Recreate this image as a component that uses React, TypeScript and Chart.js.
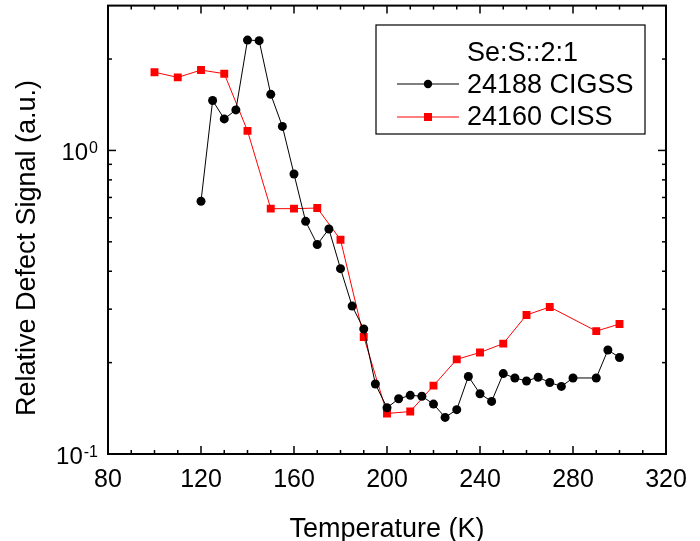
import React, { useEffect, useRef } from "react";
import { Chart, registerables } from "chart.js";

Chart.register(...registerables);

// ---- data ----
const tempCIGSS = [120, 125, 130, 135, 140, 145, 150, 155, 160, 165, 170, 175, 180, 185, 190, 195, 200, 205, 210, 215, 220, 225, 230, 235, 240, 245, 250, 255, 260, 265, 270, 275, 280, 290, 295, 300];
const sigCIGSS = [0.68, 1.46, 1.27, 1.36, 2.31, 2.30, 1.53, 1.20, 0.836, 0.584, 0.49, 0.551, 0.408, 0.307, 0.258, 0.170, 0.142, 0.152, 0.156, 0.155, 0.146, 0.132, 0.140, 0.180, 0.158, 0.149, 0.184, 0.178, 0.174, 0.179, 0.172, 0.167, 0.178, 0.178, 0.220, 0.208];

const tempCISS = [100, 110, 120, 130, 140, 150, 160, 170, 180, 190, 200, 210, 220, 230, 240, 250, 260, 270, 290, 300];
const sigCISS = [1.81, 1.74, 1.84, 1.79, 1.16, 0.643, 0.643, 0.646, 0.508, 0.243, 0.136, 0.138, 0.168, 0.205, 0.216, 0.231, 0.287, 0.305, 0.254, 0.268];

const seriesNames = ["24188 CIGSS", "24160 CISS"];
const legendTitle = "Se:S::2:1";
const xTickLabels = [80, 120, 160, 200, 240, 280, 320];
const yTickValues = [0.1, 1];
const yTickBase = ["10", "10"];
const yTickExp = ["-1", "0"];
const yMinorValues = [0.2, 0.3, 0.4, 0.5, 0.6, 0.7, 0.8, 0.9, 2];
const xTitle = "Temperature (K)";
const yTitle = "Relative Defect Signal (a.u.)";

const FONT = "'Liberation Sans', Arial, sans-serif";

const axesPlugin = {
  id: "customAxes",
  afterDatasetsDraw(chart: any) {
    const { ctx, chartArea: a, scales } = chart;
    const x = scales.x;
    const y = scales.y;
    ctx.save();
    ctx.strokeStyle = "#000";
    ctx.fillStyle = "#000";
    const line = (x1: number, y1: number, x2: number, y2: number) => {
      ctx.beginPath();
      ctx.moveTo(x1, y1);
      ctx.lineTo(x2, y2);
      ctx.stroke();
    };
    ctx.lineWidth = 1.5;
    // x ticks (major every 40, minor every 10)
    for (let v = x.min; v <= x.max; v += 10) {
      const px = x.getPixelForValue(v);
      const len = xTickLabels.includes(v) ? 8 : 4;
      line(px, a.bottom, px, a.bottom - len);
      line(px, a.top, px, a.top + len);
    }
    // y ticks
    yTickValues.forEach((v) => {
      const py = y.getPixelForValue(v);
      line(a.left, py, a.left + 8, py);
      line(a.right, py, a.right - 8, py);
    });
    yMinorValues.forEach((v) => {
      const py = y.getPixelForValue(v);
      line(a.left, py, a.left + 4, py);
      line(a.right, py, a.right - 4, py);
    });
    // frame
    ctx.lineWidth = 2;
    ctx.strokeRect(a.left, a.top, a.right - a.left, a.bottom - a.top);

    // x tick labels
    ctx.font = `25px ${FONT}`;
    ctx.textAlign = "center";
    ctx.textBaseline = "alphabetic";
    xTickLabels.forEach((v) => {
      ctx.fillText(String(v), x.getPixelForValue(v), a.bottom + 33);
    });

    // y tick labels with superscripts
    yTickValues.forEach((v, i) => {
      const py = y.getPixelForValue(v);
      ctx.font = `16px ${FONT}`;
      const supW = ctx.measureText(yTickExp[i]).width;
      const right = a.left - 10;
      ctx.textAlign = "left";
      ctx.textBaseline = "alphabetic";
      ctx.fillText(yTickExp[i], right - supW, py + 3);
      ctx.font = `24px ${FONT}`;
      ctx.textAlign = "right";
      ctx.textBaseline = "middle";
      ctx.fillText(yTickBase[i], right - supW - 1, py + 3);
    });

    // axis titles
    ctx.font = `27px ${FONT}`;
    ctx.textAlign = "center";
    ctx.textBaseline = "alphabetic";
    ctx.fillText(xTitle, (a.left + a.right) / 2, 537);
    ctx.save();
    ctx.translate(35, 248);
    ctx.rotate(-Math.PI / 2);
    ctx.fillText(yTitle, 0, 0);
    ctx.restore();

    // legend
    const lx = 376, ly = 25, lw = 269, lh = 109;
    ctx.fillStyle = "#fff";
    ctx.fillRect(lx, ly, lw, lh);
    ctx.lineWidth = 1.2;
    ctx.strokeStyle = "#000";
    ctx.strokeRect(lx, ly, lw, lh);
    ctx.fillStyle = "#000";
    ctx.font = `27px ${FONT}`;
    ctx.textAlign = "left";
    ctx.textBaseline = "alphabetic";
    ctx.fillText(legendTitle, 467, 61);
    ctx.fillText(seriesNames[0], 467, 93);
    ctx.fillText(seriesNames[1], 467, 125);
    // samples
    ctx.lineWidth = 1;
    ctx.strokeStyle = "#000";
    line(397, 84, 459, 84);
    ctx.beginPath();
    ctx.arc(428, 84, 4.2, 0, Math.PI * 2);
    ctx.fill();
    ctx.strokeStyle = "#ff0000";
    line(397, 117, 459, 117);
    ctx.fillStyle = "#ff0000";
    ctx.fillRect(424, 113, 8, 8);
    ctx.restore();
  },
};

export default function App() {
  const ref = useRef<HTMLCanvasElement>(null);
  useEffect(() => {
    if (!ref.current) return;
    const chart = new Chart(ref.current, {
      type: "line",
      data: {
        datasets: [
          {
            label: seriesNames[0],
            data: tempCIGSS.map((t, i) => ({ x: t, y: sigCIGSS[i] })),
            borderColor: "#000",
            backgroundColor: "#000",
            borderWidth: 1,
            pointStyle: "circle",
            pointRadius: 4.5,
            pointBorderWidth: 0,
            tension: 0,
          },
          {
            label: seriesNames[1],
            data: tempCISS.map((t, i) => ({ x: t, y: sigCISS[i] })),
            borderColor: "#ff0000",
            backgroundColor: "#ff0000",
            borderWidth: 1,
            pointStyle: "rect",
            pointRadius: 5.6,
            pointBorderWidth: 0,
            tension: 0,
          },
        ],
      },
      options: {
        animation: false,
        responsive: true,
        maintainAspectRatio: false,
        layout: { padding: { left: 108, right: 34, top: 4, bottom: 87 } },
        plugins: { legend: { display: false }, tooltip: { enabled: false } },
        scales: {
          x: { type: "linear", min: 80, max: 320, display: false },
          y: { type: "logarithmic", min: 0.1, max: 3, display: false },
        },
      },
      plugins: [axesPlugin],
    });
    return () => chart.destroy();
  }, []);
  return (
    <div style={{ position: "absolute", left: 0, top: 0, width: 700, height: 541, background: "#fff" }}>
      <canvas ref={ref} />
    </div>
  );
}
